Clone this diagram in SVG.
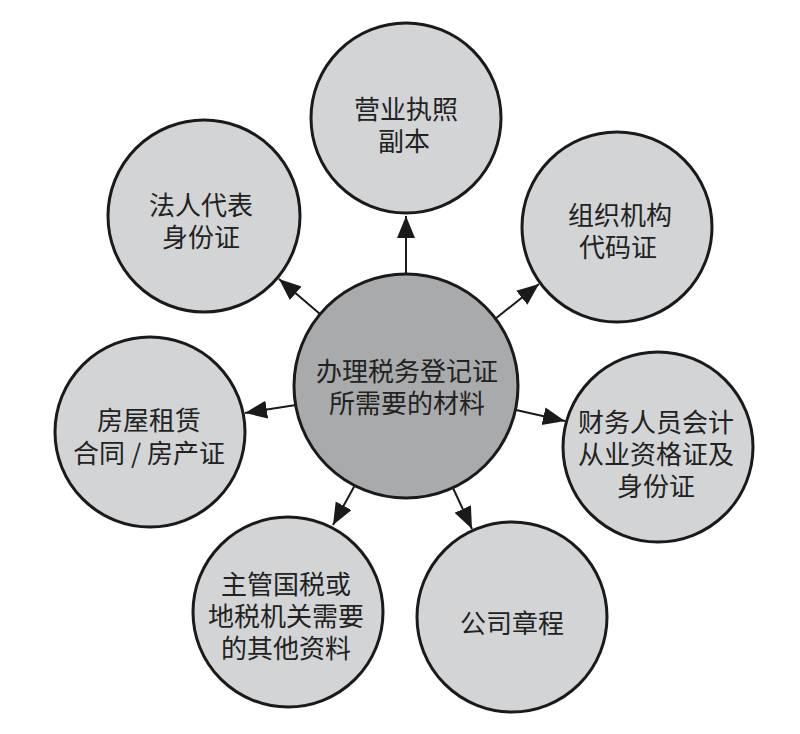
<svg xmlns="http://www.w3.org/2000/svg" width="800" height="734" viewBox="0 0 800 734">
<style>
.node{fill:#d3d4d6;stroke:#1a1a1a;stroke-width:3}
.hub{fill:#a9aaac;stroke:#1a1a1a;stroke-width:3}
.lbl{font-family:"Noto Sans CJK SC","Noto Sans",sans-serif;font-size:26px;fill:#222;text-anchor:middle;dominant-baseline:central}
.edge{stroke:#1a1a1a;stroke-width:2;fill:none;marker-end:url(#arr)}
</style>
<defs>
<marker id="arr" markerUnits="userSpaceOnUse" markerWidth="24" markerHeight="20" refX="22" refY="9" orient="auto">
<path d="M0,0 L22,9 L0,18 Z" fill="#1a1a1a"/>
</marker>
</defs>
<rect width="800" height="734" fill="#fff"/>
<g id="connectors">
<line class="edge" x1="406" y1="274" x2="406" y2="216"/>
<line class="edge" x1="320" y1="314" x2="279" y2="279"/>
<line class="edge" x1="495" y1="319" x2="539" y2="284"/>
<line class="edge" x1="296" y1="405" x2="245" y2="413"/>
<line class="edge" x1="516" y1="410" x2="565" y2="421"/>
<line class="edge" x1="355" y1="485" x2="333" y2="525"/>
<line class="edge" x1="453" y1="488" x2="472" y2="529"/>
</g>
<g id="hub">
<circle class="hub" cx="406" cy="386" r="112"/>
<text class="lbl"><tspan x="407" y="369">办理税务登记证</tspan><tspan x="407" y="401">所需要的材料</tspan></text>
</g>
<g id="n-license">
<circle class="node" cx="406" cy="118" r="95"/>
<text class="lbl"><tspan x="406" y="107">营业执照</tspan><tspan x="404" y="139">副本</tspan></text>
</g>
<g id="n-legal">
<circle class="node" cx="204" cy="216" r="96"/>
<text class="lbl"><tspan x="201" y="203">法人代表</tspan><tspan x="201" y="235">身份证</tspan></text>
</g>
<g id="n-org">
<circle class="node" cx="617" cy="227" r="95"/>
<text class="lbl"><tspan x="620" y="213">组织机构</tspan><tspan x="618" y="245">代码证</tspan></text>
</g>
<g id="n-house">
<circle class="node" cx="150" cy="432" r="95"/>
<text class="lbl"><tspan x="149" y="418">房屋租赁</tspan><tspan x="149" y="451">合同 / 房产证</tspan></text>
</g>
<g id="n-accounting">
<circle class="node" cx="658" cy="447" r="95"/>
<text class="lbl"><tspan x="656" y="420">财务人员会计</tspan><tspan x="656" y="452">从业资格证及</tspan><tspan x="656" y="484">身份证</tspan></text>
</g>
<g id="n-other">
<circle class="node" cx="288" cy="612" r="95"/>
<text class="lbl"><tspan x="286" y="582">主管国税或</tspan><tspan x="286" y="614">地税机关需要</tspan><tspan x="286" y="646">的其他资料</tspan></text>
</g>
<g id="n-charter">
<circle class="node" cx="512" cy="617" r="95"/>
<text class="lbl" x="512" y="621">公司章程</text>
</g>
</svg>
